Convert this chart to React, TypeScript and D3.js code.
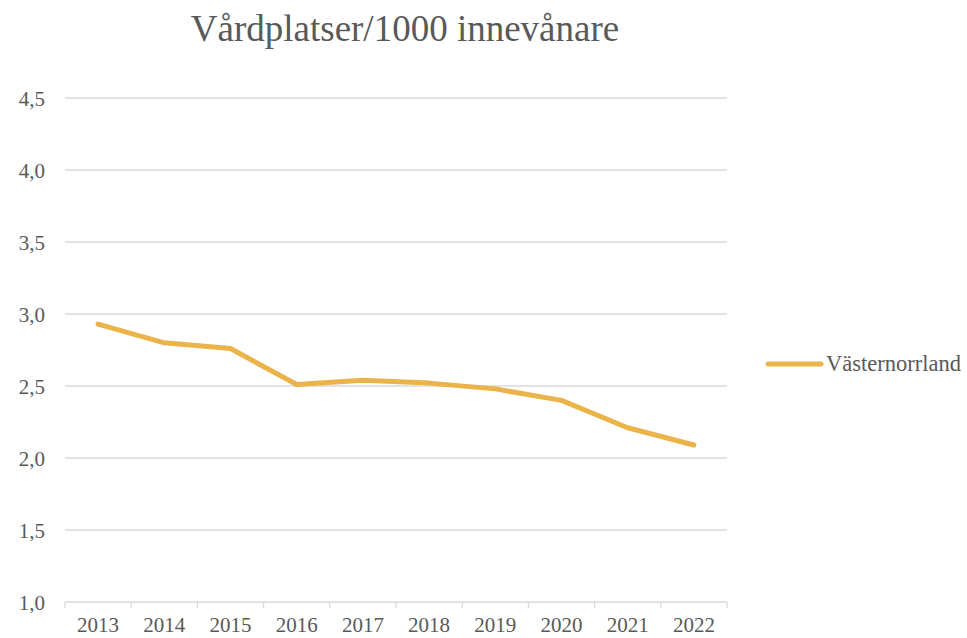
import React from "react";
import * as d3 from "d3";

const years = ["2013", "2014", "2015", "2016", "2017", "2018", "2019", "2020", "2021", "2022"];
const values = [2.93, 2.8, 2.76, 2.51, 2.54, 2.52, 2.48, 2.4, 2.21, 2.09];
const yTicks = [1.0, 1.5, 2.0, 2.5, 3.0, 3.5, 4.0, 4.5];
const seriesName = "Västernorrland";
const title = "Vårdplatser/1000 innevånare";

const W = 967;
const H = 638;
const left = 65;
const right = 727;
const top = 98;
const bottom = 602;
const FONT = "'Liberation Serif', 'Times New Roman', serif";
const TEXT = "#595959";
const LINE = "#EBB44A";
const GRID = "#D9D9D9";

export default function App() {
  const x = d3.scaleBand<string>().domain(years).range([left, right]);
  const y = d3.scaleLinear().domain([1, 4.5]).range([bottom, top]);
  const line = d3
    .line<number>()
    .x((_, i) => (x(years[i]) as number) + x.bandwidth() / 2)
    .y((d) => y(d));
  const fmt = (v: number) => v.toFixed(1).replace(".", ",");
  const boundaries = years.map((yr) => x(yr) as number).concat([right]);

  return (
    <svg
      width={W}
      height={H}
      style={{ position: "absolute", left: 0, top: 0, background: "#fff" }}
      fontFamily={FONT}
    >
      <text x={405} y={41} textAnchor="middle" fontSize={37} fill={TEXT}>
        {title}
      </text>
      {yTicks.slice(1).map((t) => (
        <line key={t} x1={left} x2={right} y1={y(t)} y2={y(t)} stroke={GRID} strokeWidth={1.3} />
      ))}
      <line x1={left} x2={right} y1={bottom} y2={bottom} stroke={GRID} strokeWidth={1.3} />
      {boundaries.map((b, i) => (
        <line key={i} x1={b} x2={b} y1={bottom} y2={bottom + 6} stroke={GRID} strokeWidth={1.3} />
      ))}
      {yTicks.map((t) => (
        <text key={t} x={45} y={y(t) + 7.5} textAnchor="end" fontSize={21} fill={TEXT}>
          {fmt(t)}
        </text>
      ))}
      {years.map((yr) => (
        <text
          key={yr}
          x={(x(yr) as number) + x.bandwidth() / 2}
          y={632}
          textAnchor="middle"
          fontSize={21}
          fill={TEXT}
        >
          {yr}
        </text>
      ))}
      <path
        d={line(values) || ""}
        fill="none"
        stroke={LINE}
        strokeWidth={5}
        strokeLinecap="round"
        strokeLinejoin="round"
      />
      <line x1={768} x2={821} y1={364} y2={364} stroke={LINE} strokeWidth={5} strokeLinecap="round" />
      <text x={826} y={371} fontSize={22.5} fill={TEXT}>
        {seriesName}
      </text>
    </svg>
  );
}
